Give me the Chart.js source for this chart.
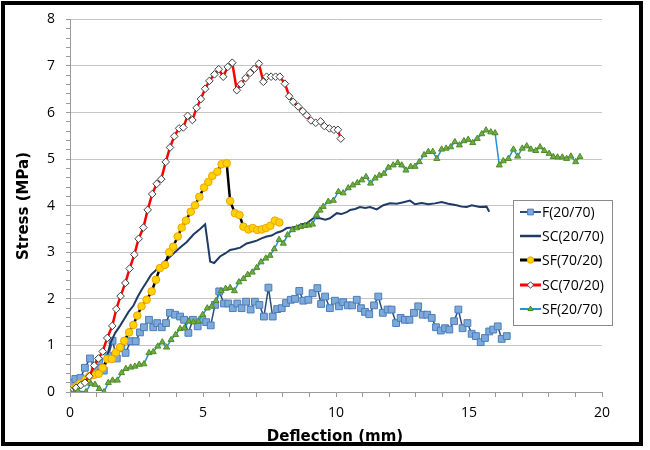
<!DOCTYPE html>
<html>
<head>
<meta charset="utf-8">
<script src="https://cdn.jsdelivr.net/npm/chart.js@4.4.1/dist/chart.umd.min.js"></script>
<style>
  html, body { margin: 0; padding: 0; background: #fff; }
</style>
</head>
<body>
<canvas id="myChart" width="650" height="450"></canvas>
<script>
// series as [deflection (mm), stress (MPa)]
var f2070 = [[0.02,0.2],[0.2,0.28],[0.39,0.3],[0.56,0.52],[0.75,0.72],[0.93,0.5],[1.09,0.66],[1.27,0.46],
  [1.44,0.78],[1.6,1.1],[1.76,0.72],[1.93,0.95],[2.09,0.84],[2.28,1.09],[2.47,1.09],[2.63,1.28],[2.78,1.39],
  [2.97,1.55],[3.13,1.39],[3.28,1.48],[3.45,1.39],[3.61,1.48],[3.76,1.7],[3.95,1.66],[4.14,1.62],[4.29,1.55],
  [4.45,1.27],[4.62,1.55],[4.8,1.41],[4.97,1.55],[5.12,1.5],[5.29,1.43],[5.45,1.87],[5.61,2.16],[5.79,1.9],
  [5.95,1.9],[6.12,1.8],[6.29,1.9],[6.45,1.8],[6.62,1.94],[6.79,1.77],[6.95,1.94],[7.12,1.87],[7.29,1.62],
  [7.46,2.24],[7.62,1.62],[7.79,1.78],[7.96,1.8],[8.12,1.91],[8.3,1.98],[8.46,2.0],[8.62,2.17],[8.77,1.96],
  [8.96,1.98],[9.12,2.12],[9.3,2.23],[9.44,1.89],[9.59,2.05],[9.77,1.8],[9.96,1.96],[10.11,1.84],[10.27,1.93],
  [10.44,1.86],[10.61,1.86],[10.78,1.98],[10.94,1.8],[11.09,1.72],[11.25,1.67],[11.43,1.86],[11.59,2.05],
  [11.76,1.7],[11.94,1.77],[12.09,1.77],[12.26,1.48],[12.43,1.59],[12.59,1.55],[12.76,1.55],[12.93,1.7],
  [13.09,1.84],[13.26,1.66],[13.43,1.66],[13.6,1.59],[13.76,1.39],[13.94,1.32],[14.1,1.37],[14.26,1.34],
  [14.44,1.52],[14.6,1.77],[14.76,1.37],[14.94,1.48],[15.1,1.25],[15.26,1.2],[15.44,1.07],[15.6,1.16],
  [15.76,1.3],[15.91,1.34],[16.08,1.41],[16.23,1.14],[16.42,1.2]];

var sc2070 = [[0,0.02],[0.3,0.1],[0.6,0.22],[0.95,0.41],[1.15,0.5],[1.33,0.62],[1.52,1.05],[1.7,1.27],
  [1.88,1.42],[2.05,1.58],[2.2,1.72],[2.38,1.85],[2.55,2.05],[2.7,2.2],[2.88,2.36],[3.05,2.52],[3.2,2.6],
  [3.38,2.7],[3.55,2.8],[3.72,2.88],[3.9,2.98],[4.14,3.1],[4.39,3.22],[4.64,3.38],[4.89,3.5],[5.08,3.6],
  [5.27,2.8],[5.42,2.77],[5.64,2.91],[5.85,2.98],[6.02,3.05],[6.2,3.07],[6.4,3.1],[6.64,3.19],[6.85,3.22],
  [7.02,3.25],[7.2,3.3],[7.39,3.34],[7.58,3.36],[7.77,3.42],[7.95,3.45],[8.15,3.52],[8.35,3.53],[8.52,3.55],
  [8.7,3.6],[8.9,3.62],[9.15,3.73],[9.4,3.73],[9.6,3.7],[9.77,3.73],[10.03,3.84],[10.2,3.82],[10.4,3.86],
  [10.53,3.91],[10.72,3.93],[10.9,3.97],[11.1,3.95],[11.28,3.97],[11.53,3.92],[11.78,4.01],[12.03,4.05],
  [12.28,4.04],[12.5,4.07],[12.78,4.11],[12.97,4.03],[13.22,4.06],[13.47,4.03],[13.72,4.05],[13.97,4.08],
  [14.22,4.04],[14.54,4.01],[14.72,3.98],[14.91,3.97],[15.1,4.01],[15.41,3.97],[15.66,3.98],[15.76,3.87]];

var sf7020 = [[0,0.02],[0.1,0.07],[0.24,0.12],[0.38,0.18],[0.6,0.27],[0.73,0.34],[0.91,0.37],[1.08,0.39],
  [1.23,0.52],[1.4,0.71],[1.57,0.71],[1.73,0.85],[1.88,0.96],[2.04,1.1],[2.22,1.28],[2.38,1.44],[2.53,1.64],
  [2.69,1.84],[2.88,1.98],[3.07,2.16],[3.23,2.41],[3.38,2.66],[3.57,2.73],[3.73,3.0],[3.88,3.12],[4.05,3.34],
  [4.2,3.53],[4.36,3.68],[4.54,3.87],[4.7,4.01],[4.86,4.19],[5.04,4.39],[5.2,4.51],[5.35,4.64],[5.54,4.73],
  [5.7,4.89],[5.89,4.91],[6.02,4.1],[6.2,3.84],[6.37,3.8],[6.52,3.55],[6.71,3.49],[6.87,3.52],[7.04,3.48],
  [7.21,3.49],[7.37,3.52],[7.53,3.57],[7.7,3.68],[7.87,3.64]];

var sc7020 = [[0,0.04],[0.23,0.09],[0.41,0.15],[0.56,0.2],[0.73,0.34],[0.91,0.57],[1.07,0.72],[1.23,0.87],
  [1.4,1.16],[1.59,1.42],[1.74,1.78],[1.9,2.06],[2.08,2.34],[2.24,2.65],[2.42,2.95],[2.58,3.29],[2.76,3.53],
  [2.92,3.91],[3.09,4.25],[3.26,4.47],[3.43,4.57],[3.6,4.94],[3.76,5.25],[3.92,5.49],[4.1,5.66],[4.26,5.68],
  [4.42,5.93],[4.6,5.84],[4.76,6.1],[4.92,6.29],[5.08,6.51],[5.24,6.68],[5.43,6.82],[5.59,6.93],[5.76,6.77],
  [5.93,6.98],[6.1,7.07],[6.27,6.48],[6.43,6.61],[6.6,6.74],[6.77,6.85],[6.93,6.94],[7.1,7.05],[7.27,6.66],
  [7.39,6.77],[7.56,6.77],[7.73,6.77],[7.89,6.77],[8.08,6.62],[8.24,6.35],[8.39,6.23],[8.58,6.13],[8.75,6.03],
  [8.9,5.94],[9.06,5.83],[9.24,5.78],[9.42,5.81],[9.56,5.71],[9.75,5.66],[9.92,5.63],[10.07,5.63],[10.18,5.44]];

var sf2070 = [[0,0],[0.3,0.02],[0.6,0],[0.78,0.18],[0.94,0.16],[1.1,0.07],[1.28,0],[1.44,0.2],[1.6,0.25],
  [1.78,0.25],[1.94,0.41],[2.1,0.5],[2.28,0.53],[2.44,0.55],[2.6,0.59],[2.78,0.6],[2.97,0.84],[3.13,0.86],
  [3.3,0.98],[3.47,1.07],[3.63,0.96],[3.8,1.12],[3.97,1.23],[4.14,1.36],[4.3,1.37],[4.47,1.52],[4.64,1.5],
  [4.82,1.52],[4.99,1.66],[5.16,1.8],[5.33,1.84],[5.49,1.96],[5.68,2.17],[5.85,2.22],[6.02,2.24],[6.18,2.17],
  [6.35,2.36],[6.52,2.43],[6.68,2.52],[6.85,2.57],[7.02,2.67],[7.18,2.79],[7.36,2.87],[7.52,2.93],[7.68,3.07],
  [7.86,3.27],[8.02,3.19],[8.18,3.37],[8.36,3.48],[8.52,3.52],[8.67,3.55],[8.83,3.57],[8.98,3.58],[9.12,3.6],
  [9.27,3.8],[9.4,3.9],[9.52,3.98],[9.71,4.09],[9.9,4.11],[10.09,4.3],[10.27,4.27],[10.46,4.38],[10.63,4.44],
  [10.8,4.49],[10.97,4.55],[11.13,4.62],[11.3,4.48],[11.47,4.59],[11.63,4.65],[11.8,4.69],[11.97,4.82],
  [12.15,4.87],[12.32,4.92],[12.47,4.87],[12.63,4.76],[12.81,4.84],[12.97,4.84],[13.13,4.94],[13.31,5.09],
  [13.47,5.16],[13.64,5.16],[13.79,5.01],[13.97,5.21],[14.14,5.23],[14.31,5.26],[14.47,5.37],[14.64,5.3],
  [14.81,5.39],[14.97,5.42],[15.14,5.35],[15.31,5.44],[15.48,5.54],[15.64,5.62],[15.82,5.58],[15.98,5.56],
  [16.14,4.87],[16.29,4.96],[16.48,5.01],[16.67,5.21],[16.83,5.06],[17.0,5.23],[17.17,5.28],[17.33,5.21],
  [17.51,5.18],[17.67,5.26],[17.83,5.18],[18.01,5.12],[18.17,5.05],[18.33,5.04],[18.51,5.04],[18.67,5.01],
  [18.83,5.06],[19.01,4.94],[19.17,5.05]];

var seriesNames = ["F(20/70)", "SC(20/70)", "SF(70/20)", "SC(70/20)", "SF(20/70)"];
var xTicks = [0, 5, 10, 15, 20];
var yTicks = [0, 1, 2, 3, 4, 5, 6, 7, 8];

function pts(arr) {
  return arr.map(p => ({ x: p[0], y: p[1] }));
}

var styles = [
  { line: "#274b7a", width: 1.5, pstyle: "rect", r: 4.8, fill: "#7ea9d8", stroke: "#4a7ebb" },
  { line: "#1f3a64", width: 2, pstyle: false, r: 0, fill: "#1f3a64", stroke: "#1f3a64" },
  { line: "#000000", width: 2.5, pstyle: "circle", r: 3.8, fill: "#ffd200", stroke: "#f0a500" },
  { line: "#ff0000", width: 2.5, pstyle: "rectRot", r: 3.8, fill: "#ffffff", stroke: "#404040" },
  { line: "#1f93e0", width: 1.5, pstyle: "triangle", r: 3.5, fill: "#6fae3e", stroke: "#4f8a2a" }
];
var allData = [f2070, sc2070, sf7020, sc7020, sf2070];

var datasets = allData.map((d, i) => ({
  label: seriesNames[i],
  data: pts(d),
  showLine: true,
  borderColor: styles[i].line,
  borderWidth: styles[i].width,
  pointStyle: styles[i].pstyle,
  pointRadius: styles[i].r,
  pointBackgroundColor: styles[i].fill,
  pointBorderColor: styles[i].stroke,
  pointBorderWidth: 1,
  tension: 0,
  order: 4 - i  // later series on top, like the original
}));

function isWhole(v) {
  return Math.abs(v - Math.round(v)) < 1e-6;
}

function drawMark(ctx, style, r, x, y) {
  if (style === "circle") {
    ctx.arc(x, y, r, 0, Math.PI * 2);
  } else if (style === "rect") {
    var s = r * Math.SQRT1_2;
    ctx.rect(x - s, y - s, 2 * s, 2 * s);
  } else if (style === "rectRot") {
    ctx.moveTo(x, y - r);
    ctx.lineTo(x + r, y);
    ctx.lineTo(x, y + r);
    ctx.lineTo(x - r, y);
    ctx.closePath();
  } else if (style === "triangle") {
    ctx.moveTo(x, y - r);
    ctx.lineTo(x + r * 0.87, y + r * 0.5);
    ctx.lineTo(x - r * 0.87, y + r * 0.5);
    ctx.closePath();
  }
}

// legend box, axis titles and the black frame
var decor = {
  id: "decor",
  beforeDraw(chart) {
    var ctx = chart.ctx;
    ctx.save();
    ctx.fillStyle = "#fff";
    ctx.fillRect(0, 0, chart.width, chart.height);
    ctx.restore();
  },
  afterDraw(chart) {
    var ctx = chart.ctx;
    ctx.save();

    // legend
    ctx.fillStyle = "#fff";
    ctx.fillRect(513.5, 200.5, 99, 125);
    ctx.strokeStyle = "#8a8a8a";
    ctx.lineWidth = 1;
    ctx.strokeRect(513.5, 200.5, 99, 125);
    var ys = [212, 236, 260, 285, 309];
    ctx.font = "14px 'Open Sans'";
    ctx.textBaseline = "middle";
    ctx.textAlign = "left";
    seriesNames.forEach((name, i) => {
      var s = styles[i];
      var y = ys[i];
      ctx.strokeStyle = s.line;
      ctx.lineWidth = s.width + 0.5;
      ctx.beginPath();
      ctx.moveTo(520, y);
      ctx.lineTo(541, y);
      ctx.stroke();
      if (s.pstyle) {
        ctx.fillStyle = s.fill;
        ctx.strokeStyle = s.stroke;
        ctx.lineWidth = 1;
        ctx.beginPath();
        drawMark(ctx, s.pstyle, s.r * 0.85, 530.5, y);
        ctx.fill();
        ctx.stroke();
      }
      ctx.fillStyle = "#000";
      ctx.fillText(name, 542, y + 1);
    });

    // axis titles
    ctx.fillStyle = "#000";
    ctx.font = "bold 15px 'DejaVu Sans'";
    ctx.textAlign = "center";
    ctx.textBaseline = "middle";
    ctx.fillText("Deflection (mm)", 335, 437);
    ctx.translate(24, 206);
    ctx.rotate(-Math.PI / 2);
    ctx.fillText("Stress (MPa)", 0, 0);
    ctx.restore();

    // frame
    ctx.save();
    ctx.strokeStyle = "#000";
    ctx.lineWidth = 4;
    ctx.strokeRect(3, 3, 638, 441);
    ctx.restore();
  }
};

var ctx = document.getElementById("myChart").getContext("2d");
var chart = new Chart(ctx, {
  type: "scatter",
  data: { datasets: datasets },
  plugins: [decor],
  options: {
    responsive: false,
    animation: false,
    devicePixelRatio: 1,
    layout: { padding: { left: 0, top: 19, right: 48, bottom: 0 } },
    plugins: {
      legend: { display: false },
      tooltip: { enabled: false }
    },
    scales: {
      x: {
        type: "linear",
        min: 0,
        max: 20,
        afterFit: s => { s.height = 58; },
        afterBuildTicks: s => {
          var t = [];
          for (var v = 0; v <= 20; v++) t.push({ value: v });
          s.ticks = t;
        },
        ticks: {
          autoSkip: false,
          maxRotation: 0,
          padding: 8,
          color: "#000",
          font: { family: "'Open Sans'", size: 14 },
          callback: v => (xTicks.indexOf(v) >= 0 ? String(v) : "")
        },
        grid: { drawOnChartArea: false, tickLength: 5, color: "#9a9a9a" },
        border: { color: "#9a9a9a" }
      },
      y: {
        type: "linear",
        min: 0,
        max: 8,
        afterFit: s => { s.width = 70; },
        afterBuildTicks: s => {
          var t = [];
          for (var k = 0; k <= 40; k++) t.push({ value: k / 5 });
          s.ticks = t;
        },
        ticks: {
          autoSkip: false,
          padding: 11,
          color: "#000",
          font: { family: "'Open Sans'", size: 14 },
          callback: v => (isWhole(v) && yTicks.indexOf(Math.round(v)) >= 0 ? String(Math.round(v)) : "")
        },
        grid: {
          tickLength: 4,
          color: c => (isWhole(c.tick.value) ? "#c4c4c4" : "rgba(0,0,0,0)"),
          tickColor: "#9a9a9a"
        },
        border: { color: "#9a9a9a" }
      }
    }
  }
});
</script>
</body>
</html>
